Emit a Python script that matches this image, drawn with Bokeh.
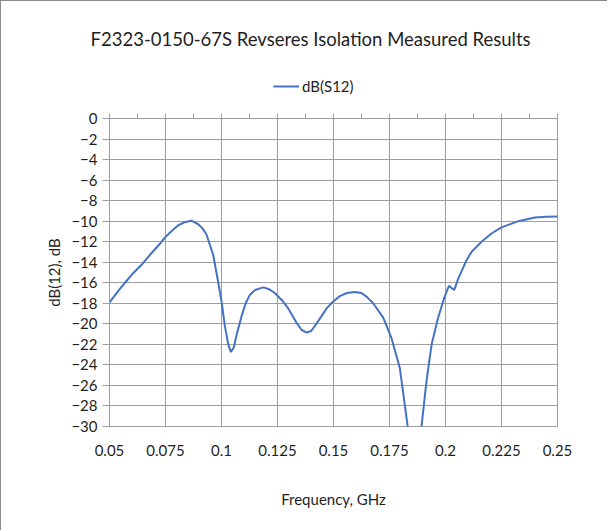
from bokeh.plotting import figure
from bokeh.layouts import column
from bokeh.models import Range1d, LinearAxis, FixedTicker, Legend, LegendItem
from bokeh.embed import file_html
from bokeh.resources import INLINE

# ---- data ----
freq_ghz = [0.05, 0.0525, 0.055, 0.0569, 0.06, 0.0643, 0.0688, 0.0725, 0.0747, 0.0775,
            0.0807, 0.0836, 0.0866, 0.0896, 0.0915, 0.0933, 0.0963, 0.0985, 0.1, 0.1015,
            0.103, 0.1042, 0.1055, 0.1067, 0.1089, 0.1108, 0.1126, 0.115, 0.1186, 0.121,
            0.1238, 0.127, 0.1298, 0.1335, 0.1358, 0.138, 0.14, 0.1417, 0.1445, 0.1469,
            0.1495, 0.1528, 0.156, 0.1595, 0.1625, 0.165, 0.1677, 0.1722, 0.1759, 0.1796,
            0.183, 0.1862, 0.1892, 0.1915, 0.1938, 0.1967, 0.1994, 0.2015, 0.2039, 0.2057,
            0.2094, 0.2116, 0.2161, 0.2205, 0.225, 0.2325, 0.2399, 0.245, 0.25]
db_s12 = [-17.9, -17.2, -16.5, -16.0, -15.2, -14.25, -13.1, -12.2, -11.6, -11.0,
          -10.4, -10.1, -9.95, -10.3, -10.7, -11.3, -13.3, -15.9, -17.8, -20.2,
          -22.0, -22.75, -22.3, -21.1, -19.3, -18.0, -17.2, -16.7, -16.45, -16.6,
          -17.0, -17.7, -18.5, -19.9, -20.6, -20.85, -20.7, -20.2, -19.3, -18.5,
          -17.9, -17.3, -17.0, -16.9, -17.0, -17.4, -18.0, -19.4, -21.4, -24.3,
          -29.8, -36.0, -30.2, -25.6, -22.0, -19.4, -17.5, -16.3, -16.7, -15.6,
          -13.8, -13.0, -12.0, -11.2, -10.6, -10.0, -9.65, -9.58, -9.55]

x_ticks = [0.05, 0.075, 0.1, 0.125, 0.15, 0.175, 0.2, 0.225, 0.25]
x_tick_labels = ["0.05", "0.075", "0.1", "0.125", "0.15", "0.175", "0.2", "0.225", "0.25"]
x_minor_ticks = [0.05 + 0.0125 * i for i in range(17)]
y_ticks = [0, -2, -4, -6, -8, -10, -12, -14, -16, -18, -20, -22, -24, -26, -28, -30]

title_text = "F2323-0150-67S Revseres Isolation Measured Results"
series_name = "dB(S12)"
x_title = "Frequency, GHz"
y_title = "dB(12), dB"

FONT = "Lato"
TXT = "#1f1f1f"
GRID = "#9e9e9e"
LINE = "#4472C4"

# ---------- header figure: title + legend ----------
pt = figure(width=606, height=103, output_backend="svg", toolbar_location=None,
            x_range=Range1d(0.05, 0.25), y_range=Range1d(100, 200),
            x_axis_location=None, y_axis_location=None, title=title_text,
            min_border_left=14, min_border_right=0, min_border_top=53, min_border_bottom=0)
pt.outline_line_color = None
pt.grid.grid_line_color = None
pt.title.align = "left"
pt.title.offset = -19
pt.title.text_font = FONT
pt.title.text_font_size = "18.5px"
pt.title.text_font_style = "normal"
pt.title.text_color = TXT
pt.title.standoff = 10
# same series drawn here only so the legend can show its line style (outside view)
rt = pt.line(freq_ghz, db_s12, line_color=LINE, line_width=2)

leg = Legend(items=[LegendItem(label=series_name, renderers=[rt])],
             orientation="horizontal", location=(164, 9))
leg.label_text_font = FONT
leg.label_text_font_size = "15px"
leg.label_text_color = TXT
leg.glyph_width = 26
leg.glyph_height = 18
leg.label_standoff = 3
leg.padding = 0
leg.margin = 0
leg.border_line_color = None
leg.background_fill_alpha = 0
pt.add_layout(leg)

# ---------- main chart ----------
p = figure(width=606, height=426, output_backend="svg", toolbar_location=None,
           x_range=Range1d(0.05, 0.25), y_range=Range1d(-30, 0),
           x_axis_label=x_title, y_axis_label=y_title,
           min_border_left=108, min_border_right=50,
           min_border_top=14, min_border_bottom=104)

p.outline_line_color = GRID
p.background_fill_color = "white"
p.border_fill_color = "white"

r = p.line(freq_ghz, db_s12, line_color=LINE, line_width=2)

ya = p.yaxis[0]
ya.ticker = FixedTicker(ticks=y_ticks)
ya.axis_line_color = GRID
ya.major_tick_line_color = GRID
ya.major_tick_out = 7
ya.major_tick_in = 0
ya.minor_tick_line_color = None
ya.major_label_standoff = 5
ya.major_label_text_font = FONT
ya.major_label_text_font_size = "15px"
ya.major_label_text_color = TXT
ya.axis_label_text_font = FONT
ya.axis_label_text_font_size = "15px"
ya.axis_label_text_font_style = "normal"
ya.axis_label_text_color = TXT
ya.axis_label_standoff = 5

xa = p.xaxis[0]
xa.ticker = FixedTicker(ticks=x_ticks)
xa.major_label_overrides = {t: s for t, s in zip(x_ticks, x_tick_labels)}
xa.axis_line_color = None
xa.major_tick_line_color = None
xa.minor_tick_line_color = None
xa.major_label_standoff = 12
xa.major_label_text_font = FONT
xa.major_label_text_font_size = "15px"
xa.major_label_text_color = TXT
xa.axis_label_text_font = FONT
xa.axis_label_text_font_size = "15px"
xa.axis_label_text_font_style = "normal"
xa.axis_label_text_color = TXT
xa.axis_label_standoff = 31

# top axis: only the upward tick marks where the horizontal axis crosses 0
ta = LinearAxis(ticker=FixedTicker(ticks=x_minor_ticks))
ta.axis_line_color = GRID
ta.major_tick_line_color = GRID
ta.major_tick_out = 5
ta.major_tick_in = 0
ta.minor_tick_line_color = None
ta.major_label_text_color = None
ta.major_label_text_font_size = "1px"
ta.major_label_standoff = 0
p.add_layout(ta, "above")

p.xgrid.ticker = FixedTicker(ticks=x_ticks)
p.ygrid.ticker = FixedTicker(ticks=y_ticks)
p.xgrid.grid_line_color = GRID
p.ygrid.grid_line_color = GRID

layout = column(pt, p, spacing=0,
                styles={"border-left": "1px solid #8c8c8c", "border-top": "1px solid #8c8c8c"})
open("out.html", "w").write(file_html(layout, INLINE))
